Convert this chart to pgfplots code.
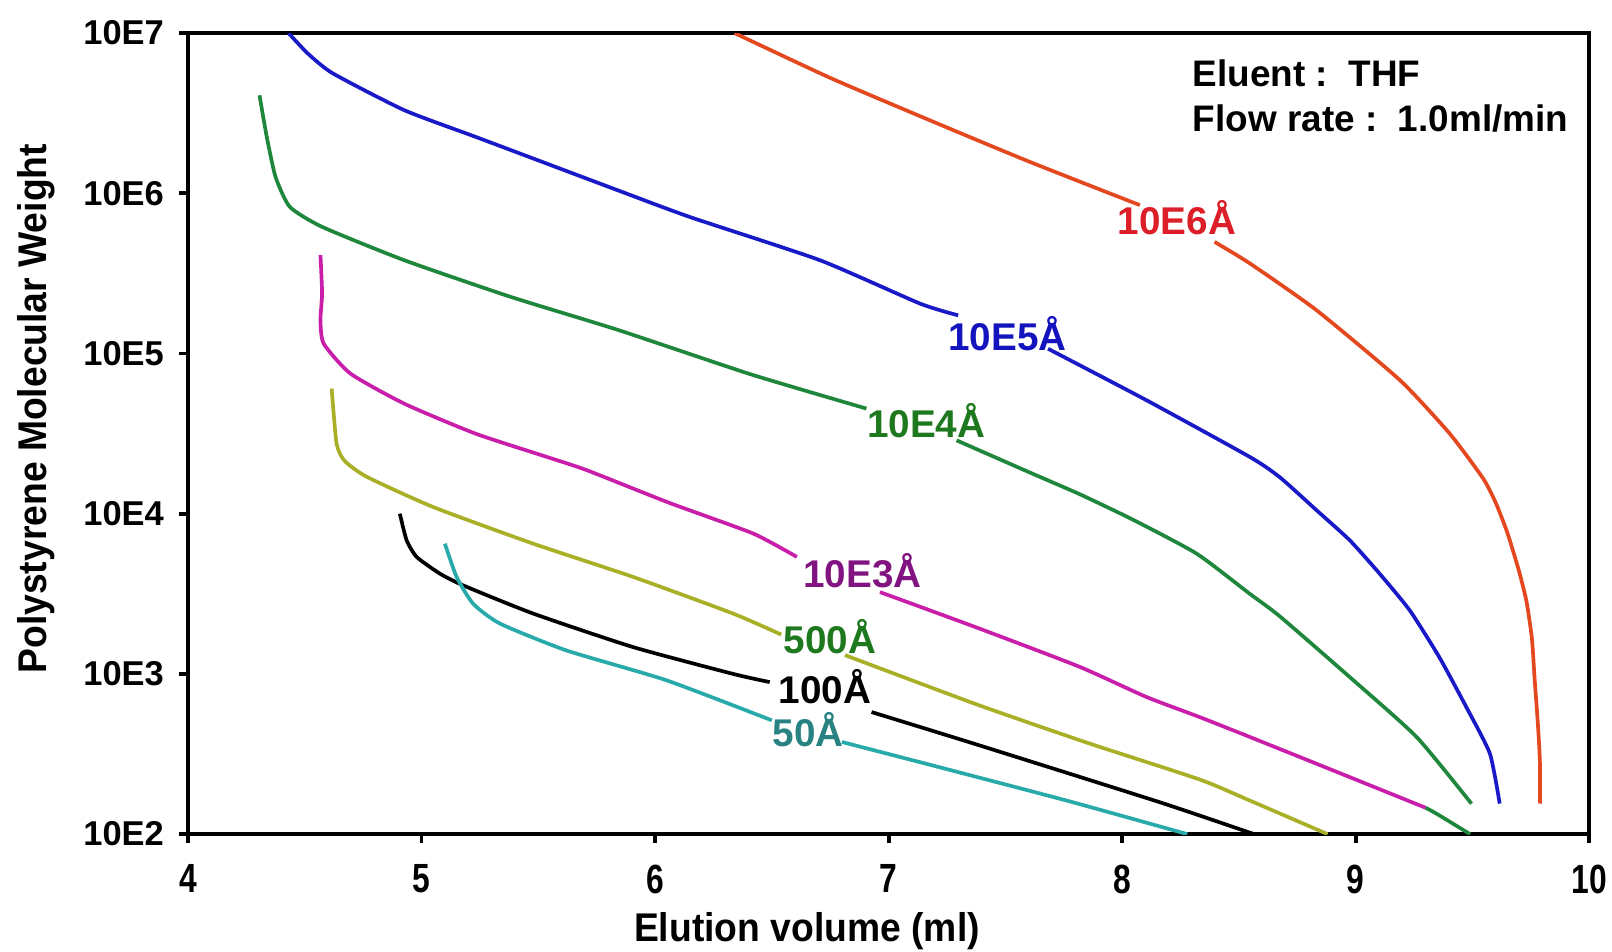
\documentclass[border=0pt]{standalone}
\usepackage{fontspec}
\setmainfont{Liberation Sans}
\newfontfamily\narrowfont[FakeStretch=0.78]{Liberation Sans}
\newfontfamily\labfont[FakeStretch=0.93]{Liberation Sans}
\usepackage{pgfplots}
\pgfplotsset{compat=1.18}
\definecolor{cred}{RGB}{228,72,30}
\definecolor{lred}{RGB}{220,30,40}
\definecolor{cblue}{RGB}{25,25,200}
\definecolor{lblue}{RGB}{20,20,190}
\definecolor{cgreen}{RGB}{30,135,60}
\definecolor{lgreen}{RGB}{30,120,30}
\definecolor{cmag}{RGB}{200,30,170}
\definecolor{lmag}{RGB}{130,20,130}
\definecolor{colive}{RGB}{170,175,40}
\definecolor{cteal}{RGB}{40,170,170}
\definecolor{lteal}{RGB}{40,130,130}
\begin{document}
\begin{tikzpicture}
\path (-53.5pt,-33.3pt) rectangle (405.1pt,237.3pt);
\begin{axis}[name=ax, at={(0,0)}, anchor=south west, scale only axis,
 width=398.6pt, height=227.9pt,
 xmin=4, xmax=10, ymin=100, ymax=1e7, ymode=log,
 xtick={4,5,6,7,8,9,10},
 ytick={100,1000,10000,100000,1000000,10000000},
 yticklabels={10E2,10E3,10E4,10E5,10E6,10E7},
 minor ytick={}, yminorticks=false,
 tick align=outside, xtick pos=bottom, ytick pos=left,
 major tick length=2.5pt,
 every tick/.style={black, line width=1.1pt},
 axis line style={line width=1.3pt},
 /pgf/number format/assume math mode=true,
 xticklabel style={font=\narrowfont\fontsize{11.6}{13}\selectfont\bfseries, inner sep=0pt, yshift=-6pt},
 yticklabel style={font=\fontsize{9.8}{12}\selectfont\bfseries, inner sep=0pt, xshift=-4.2pt},
 clip mode=individual,
 every axis plot/.append style={line width=1.05pt, line join=round, smooth, tension=0.35},
]
% 10E6
\addplot[cred] coordinates {(6.34,1e7) (6.75,5.25e6) (7.175,2.86e6) (7.6,1.58e6) (8.076,8.43e5)};
\addplot[cred] coordinates {(8.396,4.97e5) (8.547,3.65e5) (8.833,1.86e5) (9.19,6.81e4) (9.403,3.16e4) (9.546,1.66e4) (9.60,1.17e4) (9.65,7.59e3) (9.70,4.37e3) (9.732,2.82e3) (9.755,1.66e3) (9.767,9.12e2) (9.78,5.01e2) (9.789,2.88e2) (9.79,1.55e2)};
% 10E5
\addplot[cblue] coordinates {(4.43,1e7) (4.513,7.45e6) (4.62,5.60e6) (4.926,3.30e6) (5.231,2.25e6) (5.537,1.53e6) (5.843,1.04e6) (6.149,7.11e5) (6.706,3.82e5) (7.134,2.05e5) (7.298,1.73e5)};
\addplot[cblue] coordinates {(7.683,1.07e5) (8.104,5.11e4) (8.547,2.26e4) (8.675,1.69e4) (8.833,1.05e4) (8.975,6.82e3) (9.10,4.27e3) (9.232,2.49e3) (9.36,1.26e3) (9.475,6.17e2) (9.575,3.18e2) (9.617,1.55e2)};
% 10E4
\addplot[cgreen] coordinates {(4.306,4.09e6) (4.337,2.25e6) (4.375,1.26e6) (4.436,8.22e5) (4.574,6.17e5) (4.926,3.82e5) (5.384,2.25e5) (5.843,1.40e5) (6.41,7.41e4) (6.905,4.53e4)};
\addplot[cgreen] coordinates {(7.291,2.87e4) (7.60,1.82e4) (7.82,1.32e4) (8.05,9.12e3) (8.32,5.62e3) (8.547,3.16e3) (8.675,2.29e3) (8.975,9.55e2) (9.261,4.04e2) (9.496,1.55e2)};
% 10E3
\addplot[cmag] coordinates {(4.567,4.11e5) (4.574,2.37e5) (4.567,1.61e5) (4.581,1.15e5) (4.696,7.48e4) (4.926,4.86e4) (5.231,3.16e4) (5.537,2.26e4) (5.707,1.87e4) (6.06,1.17e4) (6.42,7.52e3) (6.607,5.37e3)};
\addplot[cmag] coordinates {(6.963,3.24e3) (7.376,1.95e3) (7.816,1.11e3) (8.104,7.18e2) (8.333,5.37e2) (8.547,4.04e2) (8.9,2.51e2) (9.30,1.46e2)};
\addplot[cgreen] coordinates {(9.30,1.46e2) (9.347,1.34e2) (9.49,100)};
% 500
\addplot[colive] coordinates {(4.615,6.04e4) (4.636,2.74e4) (4.67,2.14e4) (4.765,1.70e4) (5.05,1.10e4) (5.478,6.50e3) (5.906,4.03e3) (6.334,2.38e3) (6.54,1.76e3)};
\addplot[colive] coordinates {(6.813,1.31e3) (7.376,6.46e2) (7.85,3.72e2) (8.333,2.19e2) (8.547,1.62e2) (8.88,100)};
% 100
\addplot[black] coordinates {(4.907,1.00e4) (4.936,6.82e3) (4.979,5.37e3) (5.078,4.23e3) (5.178,3.57e3) (5.478,2.38e3) (5.906,1.47e3) (6.334,1.00e3) (6.491,8.89e2)};
\addplot[black] coordinates {(6.927,5.78e2) (7.376,3.63e2) (8.162,1.58e2) (8.565,100)};
% 50
\addplot[cteal] coordinates {(5.10,6.50e3) (5.15,4.03e3) (5.221,2.74e3) (5.336,2.06e3) (5.621,1.40e3) (6.049,9.12e2) (6.50,5.13e2)};
\addplot[cteal] coordinates {(6.80,3.76e2) (7.16,2.75e2) (7.762,1.62e2) (8.279,100)};
% curve labels
\begin{scope}[every node/.style={inner sep=0pt, anchor=base west, font=\fontsize{11}{13}\selectfont\bfseries}]
\node[text=lred] at (axis cs:7.979,5.52e5) {10E6Å};
\node[text=lblue] at (axis cs:7.253,1.05e5) {10E5Å};
\node[text=lgreen] at (axis cs:6.905,3.01e4) {10E4Å};
\node[text=lmag] at (axis cs:6.632,3.47e3) {10E3Å};
\node[text=lgreen] at (axis cs:6.549,1.35e3) {500Å};
\node[text=black] at (axis cs:6.527,6.53e2) {100Å};
\node[text=lteal] at (axis cs:6.50,3.52e2) {50Å};
\end{scope}
\node[inner sep=0pt, anchor=base west, font=\fontsize{10.5}{13}\selectfont\bfseries] at (axis cs:8.30,4.64e6) {Eluent :\ \ THF};
\node[inner sep=0pt, anchor=base west, font=\fontsize{10.5}{13}\selectfont\bfseries] at (axis cs:8.30,2.42e6) {Flow rate :\ \ 1.0ml/min};
\node[inner sep=0pt, anchor=base, font=\labfont\fontsize{11.4}{13}\selectfont\bfseries] at ([yshift=-30.6pt]rel axis cs:0.4417,0) {Elution volume (ml)};
\node[inner sep=0pt, anchor=base, rotate=90, font=\labfont\fontsize{11.4}{13}\selectfont\bfseries] at ([xshift=-40.4pt]rel axis cs:0,0.531) {Polystyrene Molecular Weight};
\end{axis}
\end{tikzpicture}
\end{document}
